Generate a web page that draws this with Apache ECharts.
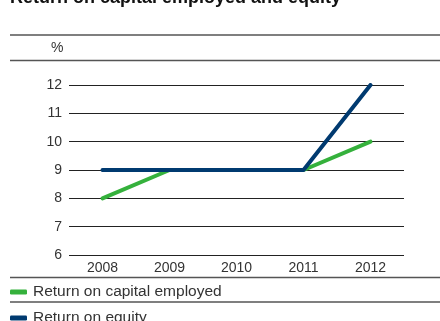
<!DOCTYPE html>
<html><head><meta charset="utf-8">
<script src="https://cdn.jsdelivr.net/npm/echarts@6/dist/echarts.min.js"></script>
<style>html,body{margin:0;padding:0;background:#fff}#c{width:440px;height:321px}</style>
</head><body><div id="c"></div>
<script>
var categories = ['2008', '2009', '2010', '2011', '2012'];
var roce = [8, 9, 9, 9, 10];
var roe = [9, 9, 9, 9, 12];
var seriesNames = ['Return on capital employed', 'Return on equity'];
var titleText = 'Return on capital employed and equity';
var unitLabel = '%';

var font = '"Liberation Sans", Arial, sans-serif';
var chart = echarts.init(document.getElementById('c'));
function hline(y) {
  return {type: 'line', shape: {x1: 10, y1: y, x2: 440, y2: y}, style: {stroke: '#555', lineWidth: 1.5}};
}
function legendAt(name, top) {
  return {
    left: 10, top: top, itemWidth: 17, itemHeight: 5, padding: 0,
    icon: 'roundRect',
    textStyle: {color: '#333', fontFamily: font, fontSize: 15.5, padding: [0, 0, 0, 1]},
    data: [name]
  };
}
chart.setOption({
  animation: false,
  grid: {left: 69, right: 36, top: 85, bottom: 66},
  xAxis: {
    type: 'category', data: categories, boundaryGap: true,
    axisLine: {show: false}, axisTick: {show: false},
    axisLabel: {color: '#333', fontFamily: font, fontSize: 14, margin: 6}
  },
  yAxis: {
    type: 'value', min: 6, max: 12, interval: 1,
    axisLine: {show: false}, axisTick: {show: false},
    axisLabel: {color: '#333', fontFamily: font, fontSize: 14, margin: 7},
    splitLine: {lineStyle: {color: '#222', width: 1}}
  },
  legend: [legendAt(seriesNames[0], 284), legendAt(seriesNames[1], 310)],
  series: [
    {name: seriesNames[0], type: 'line', data: roce, symbol: 'none', z: 2,
     color: '#35b13c', lineStyle: {width: 4, cap: 'round', join: 'round'}},
    {name: seriesNames[1], type: 'line', data: roe, symbol: 'none', z: 3,
     color: '#003a70', lineStyle: {width: 4, cap: 'round', join: 'round'}}
  ],
  graphic: [
    {type: 'text', left: 10, top: -11, style: {text: titleText, font: 'bold 18px ' + font, fill: '#111'}},
    hline(35), hline(60.5), hline(277.5), hline(302),
    {type: 'text', left: 51, top: 41, style: {text: unitLabel, font: '14px ' + font, fill: '#333'}}
  ]
});
</script></body></html>
